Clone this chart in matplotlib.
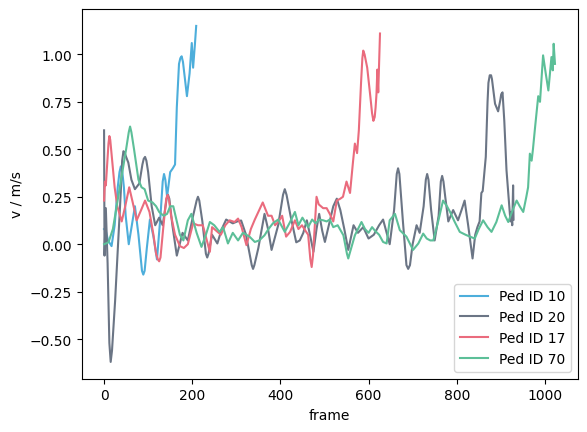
import matplotlib
matplotlib.use('Agg')
import matplotlib.pyplot as plt

# speed traces, frame vs v (m/s)
ped10_frames = [0, 4, 9, 17, 24, 31, 35, 38, 41, 45,
                49, 56, 63, 70, 78, 86, 89, 92, 97, 104,
                112, 120, 128, 133, 136, 139, 143, 150, 156, 161,
                165, 170, 173, 176, 179, 182, 188, 194, 199, 202,
                206, 209]
ped10_v = [0.08, 0.07, 0.02, -0.01, 0.10, 0.30, 0.38, 0.41, 0.39, 0.30,
           0.15, 0.0, 0.10, 0.20, 0.05, -0.14, -0.16, -0.14, -0.02, 0.13,
           0.04, -0.08, 0.15, 0.33, 0.37, 0.34, 0.25, 0.38, 0.40, 0.42,
           0.72, 0.95, 0.98, 0.99, 0.96, 0.90, 0.78, 0.90, 1.06, 0.93,
           1.05, 1.15]

ped20_frames = [0, 1, 4, 8, 12, 15, 18, 25, 33, 38,
                41, 44, 47, 50, 55, 62, 70, 80, 87, 90,
                93, 96, 100, 108, 116, 125, 133, 142, 145, 148,
                155, 165, 178, 190, 202, 210, 213, 216, 223, 231,
                234, 237, 245, 257, 267, 277, 292, 302, 311, 322,
                330, 335, 338, 341, 350, 364, 372, 380, 395, 406,
                410, 414, 423, 436, 444, 452, 460, 468, 475, 482,
                488, 495, 501, 510, 520, 528, 536, 545, 554, 566,
                576, 588, 600, 612, 624, 633, 648, 658, 664, 667,
                670, 678, 686, 690, 694, 700, 709, 716, 725, 730,
                733, 736, 742, 750, 759, 764, 767, 770, 774, 781,
                792, 803, 811, 818, 826, 836, 842, 847, 852, 856,
                859, 866, 870, 872, 875, 878, 880, 887, 894, 899,
                901, 904, 908, 913, 919, 922, 924, 926, 928, 929]
ped20_v = [0.60, -0.06, 0.19, -0.10, -0.52, -0.62, -0.56, -0.30, 0.06, 0.28,
           0.44, 0.49, 0.48, 0.46, 0.43, 0.34, 0.29, 0.32, 0.42, 0.45,
           0.46, 0.44, 0.38, 0.20, 0.10, 0.14, 0.10, 0.24, 0.26, 0.24,
           0.10, -0.06, 0.06, 0.02, 0.15, 0.23, 0.25, 0.23, 0.12, -0.05,
           -0.07, -0.05, 0.05, 0.004, 0.08, 0.13, 0.11, 0.12, 0.125, 0.05,
           -0.05, -0.11, -0.13, -0.11, -0.02, 0.16, 0.08, -0.03, 0.10, 0.26,
           0.29, 0.26, 0.15, 0.01, 0.02, 0.06, 0.126, 0.04, -0.04, 0.08,
           0.16, 0.07, 0.012, 0.10, 0.20, 0.24, 0.18, 0.08, -0.03, 0.10,
           0.06, 0.09, 0.03, 0.05, 0.10, 0.13, 0.0, 0.18, 0.37, 0.40,
           0.37, 0.12, -0.11, -0.13, -0.11, 0.0, 0.10, 0.06, 0.20, 0.34,
           0.37, 0.34, 0.18, 0.02, 0.15, 0.33, 0.36, 0.33, 0.25, 0.12,
           0.18, 0.126, 0.18, 0.23, 0.10, -0.075, 0.05, 0.09, 0.12, 0.27,
           0.28, 0.46, 0.75, 0.85, 0.89, 0.89, 0.87, 0.74, 0.70, 0.76,
           0.79, 0.80, 0.65, 0.39, 0.21, 0.12, 0.17, 0.10, 0.31, 0.13]

ped17_frames = [0, 2, 4, 10, 12, 14, 18, 24, 30, 40,
                48, 57, 65, 74, 84, 93, 103, 112, 118, 122,
                125, 128, 134, 141, 144, 147, 152, 161, 172, 181,
                190, 202, 213, 224, 232, 240, 245, 255, 265, 275,
                285, 296, 304, 312, 323, 333, 342, 350, 360, 372,
                380, 388, 396, 404, 413, 422, 433, 441, 449, 456,
                463, 468, 471, 474, 482, 487, 492, 497, 505, 512,
                520, 528, 536, 542, 550, 558, 565, 569, 574, 578,
                583, 586, 588, 591, 597, 604, 608, 611, 614, 616,
                618, 620, 622, 626]
ped17_v = [0.23, 0.33, 0.31, 0.53, 0.57, 0.55, 0.45, 0.30, 0.20, 0.12,
           0.20, 0.30, 0.22, 0.126, 0.18, 0.23, 0.17, 0.05, -0.05, -0.08,
           -0.09, -0.07, 0.08, 0.24, 0.26, 0.24, 0.15, 0.05, -0.01, -0.02,
           0.0, 0.11, 0.10, 0.10, 0.03, -0.04, 0.09, 0.07, 0.05, 0.10,
           0.126, 0.117, 0.135, 0.09, -0.005, 0.08, 0.13, 0.17, 0.22, 0.15,
           0.15, 0.10, 0.12, 0.15, 0.04, 0.065, 0.126, 0.08, 0.10, 0.074,
           0.05, -0.08, -0.12, -0.06, 0.25, 0.21, 0.20, 0.19, 0.19, 0.16,
           0.12, 0.23, 0.24, 0.25, 0.33, 0.27, 0.44, 0.53, 0.48, 0.60,
           0.85, 0.98, 1.02, 1.00, 0.93, 0.78, 0.69, 0.65, 0.67, 0.72,
           0.79, 0.92, 0.80, 1.11]

ped70_frames = [0, 10, 20, 30, 40, 50, 56, 59, 62, 68,
                78, 85, 92, 100, 110, 118, 125, 135, 143, 150,
                157, 165, 172, 180, 190, 198, 210, 221, 231, 240,
                250, 262, 270, 281, 292, 304, 315, 330, 342, 352,
                364, 373, 383, 395, 410, 422, 433, 441, 450, 463,
                472, 480, 488, 497, 505, 512, 520, 530, 543, 551,
                554, 557, 569, 584, 592, 600, 608, 615, 624, 633,
                641, 648, 660, 671, 686, 701, 713, 724, 732, 740,
                747, 758, 769, 778, 785, 795, 807, 820, 830, 841,
                850, 860, 870, 879, 890, 902, 910, 917, 927, 936,
                943, 951, 958, 962, 966, 970, 973, 978, 985, 989,
                996, 1002, 1008, 1015, 1018, 1020, 1023]
ped70_v = [0.0, 0.01, 0.08, 0.22, 0.36, 0.50, 0.59, 0.62, 0.59, 0.50,
           0.34, 0.30, 0.29, 0.23, 0.22, 0.20, 0.17, 0.15, 0.16, 0.20,
           0.20, 0.12, 0.05, 0.02, 0.126, 0.16, 0.06, -0.014, 0.05, 0.117,
           0.10, 0.065, 0.09, 0.004, 0.06, 0.02, 0.06, 0.04, 0.012, 0.02,
           0.047, 0.08, 0.11, 0.13, 0.065, 0.117, 0.17, 0.10, 0.14, 0.09,
           0.13, 0.11, 0.13, 0.126, 0.12, 0.13, 0.09, 0.10, 0.047, -0.05,
           -0.075, -0.05, 0.047, 0.117, 0.08, 0.06, 0.09, 0.07, 0.05, 0.012,
           0.004, 0.126, 0.16, 0.074, 0.04, -0.03, 0.004, 0.056, 0.03, 0.02,
           0.02, 0.12, 0.23, 0.20, 0.17, 0.12, 0.065, 0.05, 0.04, 0.03,
           0.08, 0.126, 0.09, 0.065, 0.117, 0.205, 0.15, 0.117, 0.18, 0.23,
           0.20, 0.17, 0.25, 0.30, 0.477, 0.44, 0.50, 0.62, 0.78, 0.75,
           0.995, 0.90, 0.81, 0.986, 0.916, 1.056, 0.95]

labels = ["Ped ID 10", "Ped ID 20", "Ped ID 17", "Ped ID 70"]
colors = ['#4daedb', '#6b7585', '#ea6b7d', '#5cbf98']

fig, ax = plt.subplots(figsize=(6.4, 4.8), dpi=100)
series = [(ped10_frames, ped10_v), (ped20_frames, ped20_v),
          (ped17_frames, ped17_v), (ped70_frames, ped70_v)]
for (fr, v), lab, c in zip(series, labels, colors):
    ax.plot(fr, v, color=c, label=lab)

ax.set_xlabel("frame")
ax.set_ylabel("v / m/s")
ax.legend(loc='lower right')

fig.savefig("out.png", dpi=100, bbox_inches='tight')
plt.close(fig)
